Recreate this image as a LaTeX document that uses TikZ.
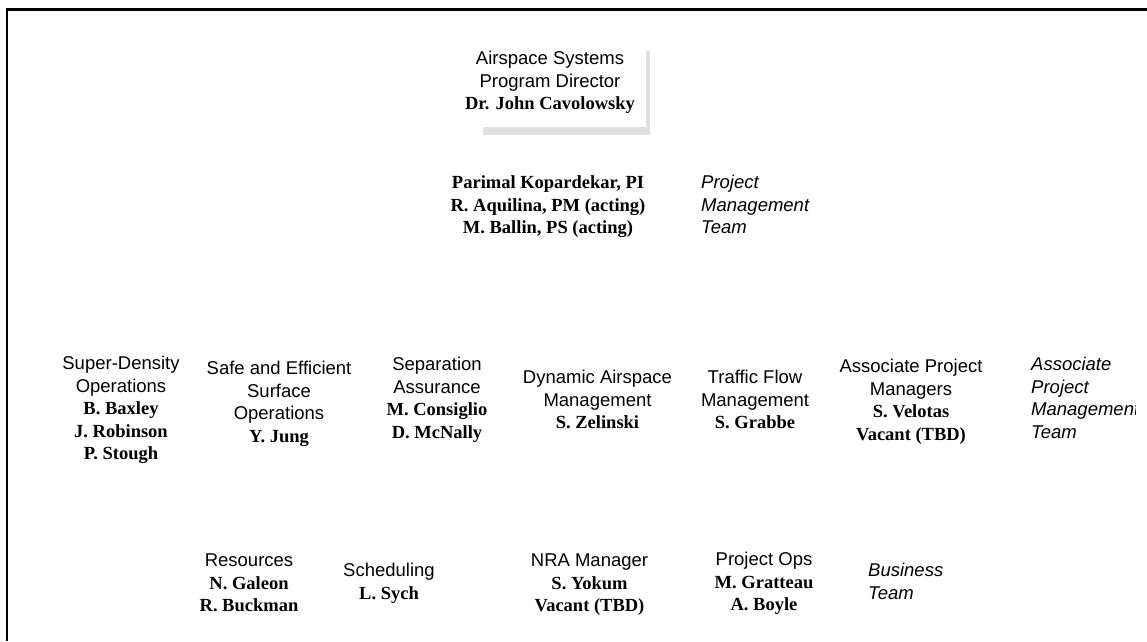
\documentclass[tikz,border=0pt]{standalone}
\usepackage{fontspec}
\setmainfont{Liberation Sans}
\newfontfamily\tnrfont{Liberation Serif}
\newcommand{\nm}[1]{{\tnrfont\bfseries #1}}
\newcommand{\firstln}{\rule{0pt}{14pt}}
\tikzset{
  blk/.style={align=center, inner sep=0pt, anchor=north, font=\fontsize{18.5}{22.5}\selectfont},
  ital/.style={align=left, inner sep=0pt, anchor=north west, font=\fontsize{18.5}{22.5}\selectfont\itshape},
  frame/.style={line width=2.2pt, black},
  shadowfill/.style={fill=black!12, draw=none}
}
\begin{document}
\begin{tikzpicture}[x=1pt,y=1pt]
\useasboundingbox (0,0) rectangle (1147,-641);
% frame (top and left)
\draw[frame] (7,-641) -- (7,-9.5) -- (1147,-9.5);
% director shadow
\fill[shadowfill] (646,-51) rectangle (650,-135);
\fill[shadowfill] (483,-127) rectangle (650,-135);
% top
\node[blk] (dir) at (550,-50.6) {\firstln Airspace Systems\\Program Director\\\nm{Dr. John Cavolowsky}};
\node[blk] (pi) at (548,-174.6) {\firstln\nm{Parimal Kopardekar, PI}\\\nm{R. Aquilina, PM (acting)}\\\nm{M. Ballin, PS (acting)}};
\node[ital] (pmt) at (701,-174.6) {\firstln Project\\Management\\Team};
% projects row
\node[blk] (sdo) at (121,-355.6) {\firstln Super-Density\\Operations\\\nm{B. Baxley}\\\nm{J. Robinson}\\\nm{P. Stough}};
\node[blk] (seso) at (279,-360.6) {\firstln Safe and Efficient\\Surface\\Operations\\\nm{Y. Jung}};
\node[blk] (sa) at (437,-356.6) {\firstln Separation\\Assurance\\\nm{M. Consiglio}\\\nm{D. McNally}};
\node[blk] (dam) at (597.5,-369.6) {\firstln Dynamic Airspace\\Management\\\nm{S. Zelinski}};
\node[blk] (tfm) at (755,-369.6) {\firstln Traffic Flow\\Management\\\nm{S. Grabbe}};
\node[blk] (apm) at (911,-358.6) {\firstln Associate Project\\Managers\\\nm{S. Velotas}\\\nm{Vacant (TBD)}};
\begin{scope}
\clip (1000,-300) rectangle (1135.5,-470);
\node[ital] (apmt) at (1031,-356.6) {\firstln Associate\\Project\\Management\\Team};
\end{scope}
% business row
\node[blk] (res) at (249,-552.6) {\firstln Resources\\\nm{N. Galeon}\\\nm{R. Buckman}};
\node[blk] (sch) at (389,-562.6) {\firstln Scheduling\\\nm{L. Sych}};
\node[blk] (nra) at (589.5,-552.6) {\firstln NRA Manager\\\nm{S. Yokum}\\\nm{Vacant (TBD)}};
\node[blk] (ops) at (764,-551.6) {\firstln Project Ops\\\nm{M. Gratteau}\\\nm{A. Boyle}};
\node[ital] (bus) at (868,-562.6) {\firstln Business\\Team};
\end{tikzpicture}
\end{document}
